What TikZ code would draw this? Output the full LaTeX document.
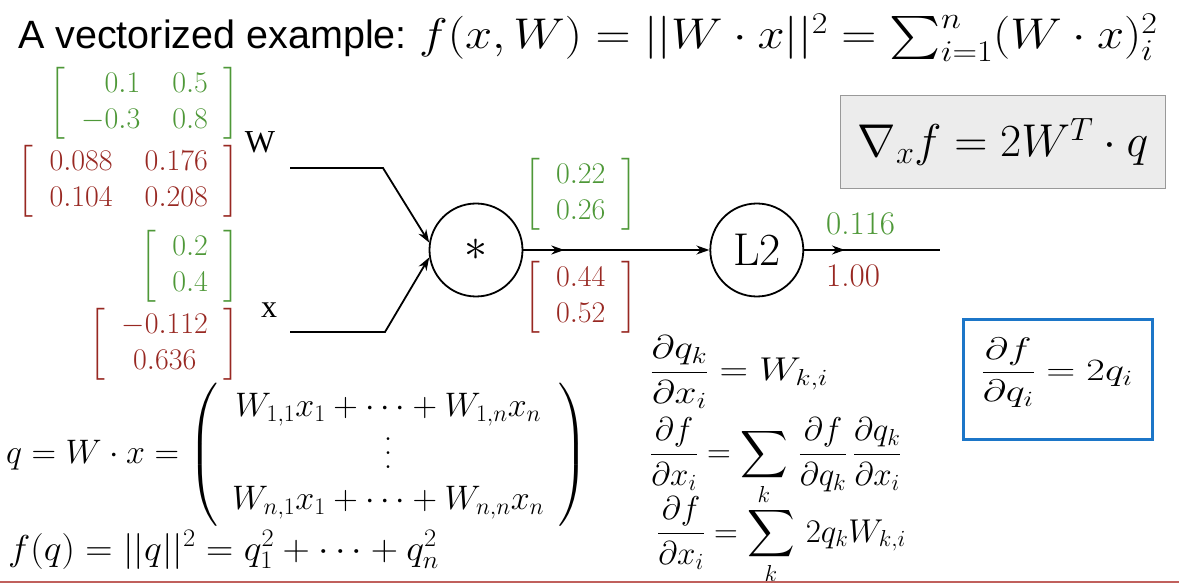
\RequirePackage{fix-cm}
\documentclass[tikz,border=0pt]{standalone}
\usepackage{amsmath,amssymb}
\usepackage{fontspec}
\newfontfamily\headfont{Liberation Sans}
\newfontfamily\varfont{Liberation Serif}
\usepackage{xcolor}
\usepackage{tikz}
\usetikzlibrary{arrows.meta, positioning, decorations.markings}

\definecolor{fwdgreen}{RGB}{78,152,56}
\definecolor{bwdred}{RGB}{152,40,34}
\definecolor{boxgray}{RGB}{236,236,236}
\definecolor{boxblue}{RGB}{28,118,200}
\definecolor{rulered}{RGB}{192,96,92}

\newcommand{\sz}[2]{\fontsize{#1}{#2}\selectfont}
\newcommand{\gradvec}[2]{$\setlength{\arraycolsep}{16pt}\left[\begin{array}{#1}#2\end{array}\right]$}
\newcommand{\tallvdots}{\vbox{\baselineskip=14pt\lineskiplimit=0pt\kern9pt\hbox{.}\hbox{.}\hbox{.}}}

\begin{document}
\begin{tikzpicture}[x=1pt, y=-1pt,
    gate/.style={circle, draw, line width=1.8pt, minimum size=93pt, inner sep=0pt, font=\sz{46}{54}},
    fwd/.style={text=fwdgreen, inner sep=0pt, font=\sz{30}{36}},
    bwd/.style={text=bwdred, inner sep=0pt, font=\sz{30}{36}},
    var/.style={inner sep=0pt, font=\varfont\sz{32}{38}},
    eqn/.style={inner sep=0pt, font=\sz{34}{41}},
    graybox/.style={draw=gray!80, fill=boxgray, line width=1.5pt, minimum width=325pt, minimum height=93pt, font=\sz{46}{54}},
    bluebox/.style={draw=boxblue, line width=3pt, minimum width=189pt, minimum height=120pt},
    arrow/.style={-{Stealth[length=13pt, width=9pt]}, line width=1.8pt},
    flow/.style={line width=1.8pt, postaction={decorate}, decoration={markings, mark=at position #1 with {\arrow{Stealth[length=13pt, width=9pt]}}}}
]
\useasboundingbox (0,0) rectangle (1179,585);
\node (title) [anchor=base west, inner sep=0pt, font=\headfont\sz{39.5}{46}] at (18,49) {A vectorized example:};
\node (titleeq) [anchor=base west, inner sep=0pt, xscale=1.13, font=\sz{43}{50}] at ([xshift=12pt]title.base east) {$f(x,W) = ||W\cdot x||^2 = \sum_{i=1}^n (W\cdot x)_i^2$};
\node (star) [gate] at (476,250) {$*$};
\node (l2) [gate, right=186pt of star] {L2};
\coordinate (win) at (290,168);
\coordinate (wknee) at (383,168);
\coordinate (xin) at (290,332);
\coordinate (xknee) at (385,332);
\coordinate (out) at (940,250);
\draw [arrow] (win) -- (wknee) -- (star.171);
\draw [arrow] (xin) -- (xknee) -- (star.189);
\draw [arrow, flow=0.22] (star) -- (l2);
\draw [flow=0.3] (l2) -- (out);
\node (wfwd) [fwd, anchor=east] at (240,103) {\gradvec{rr}{0.1 & 0.5\\ -0.3 & 0.8}};
\node (wbwd) [bwd, anchor=east] at (240,181) {\gradvec{cc}{0.088 & 0.176\\ 0.104 & 0.208}};
\node (wlab) [var] at (260,142) {W};
\node (xfwd) [fwd, anchor=east] at (240,266) {\gradvec{c}{0.2\\ 0.4}};
\node (xlab) [var] at (269,310) {x};
\node (xbwd) [bwd, anchor=east] at (240,344) {\gradvec{c}{-0.112\\ 0.636}};
\node (qfwd) [fwd, anchor=west] at (524,194) {\gradvec{c}{0.22\\ 0.26}};
\node (qbwd) [bwd, anchor=west] at (524,297) {\gradvec{c}{0.44\\ 0.52}};
\node (ffwd) [fwd, anchor=west, font=\sz{33}{40}] at (826,224) {0.116};
\node (fbwd) [bwd, anchor=west, font=\sz{33}{40}] at (826,276) {1.00};
\node (gradx) [graybox] at (1003,142) {$\nabla_x f = 2W^T \cdot q$};
\node (gradq) [bluebox] at (1058,380) {};
\node (gradqeq) [inner sep=0pt, xscale=1.3, font=\sz{31}{37}] at (1057,373) {$\dfrac{\partial f}{\partial q_i} = 2q_i$};
\node (qdef) [eqn, anchor=west] at (6,455) {$q = W\cdot x = \left(\hspace{14pt}\begin{matrix} W_{1,1}x_1+\cdots+W_{1,n}x_n\\ \tallvdots\\ W_{n,1}x_1+\cdots+W_{n,n}x_n\end{matrix}\hspace{14pt}\right)$};
\node (fdef) [eqn, anchor=base west, xscale=1.05, font=\sz{36}{43}] at (8,560) {$f(q) = ||q||^2 = q_1^2+\cdots+q_n^2$};
\node (dqdx) [anchor=base west, inner sep=0pt, xscale=1.2, font=\sz{33}{40}] at (650,381) {$\dfrac{\partial q_k}{\partial x_i} = W_{k,i}$};
\node (dfdx) [anchor=base west, inner sep=0pt, font=\sz{33}{40}] at (650,463) {$\displaystyle\frac{\partial f}{\partial x_i} = \sum_k \,\frac{\partial f}{\partial q_k}\,\frac{\partial q_k}{\partial x_i}$};
\node (dfdx2) [anchor=base west, inner sep=0pt, font=\sz{33}{40}] at (657,542) {$\displaystyle\frac{\partial f}{\partial x_i} = \sum_k \,2q_kW_{k,i}$};
\draw [rulered, line width=2pt] (0,582) -- (1179,582);
\end{tikzpicture}
\end{document}
